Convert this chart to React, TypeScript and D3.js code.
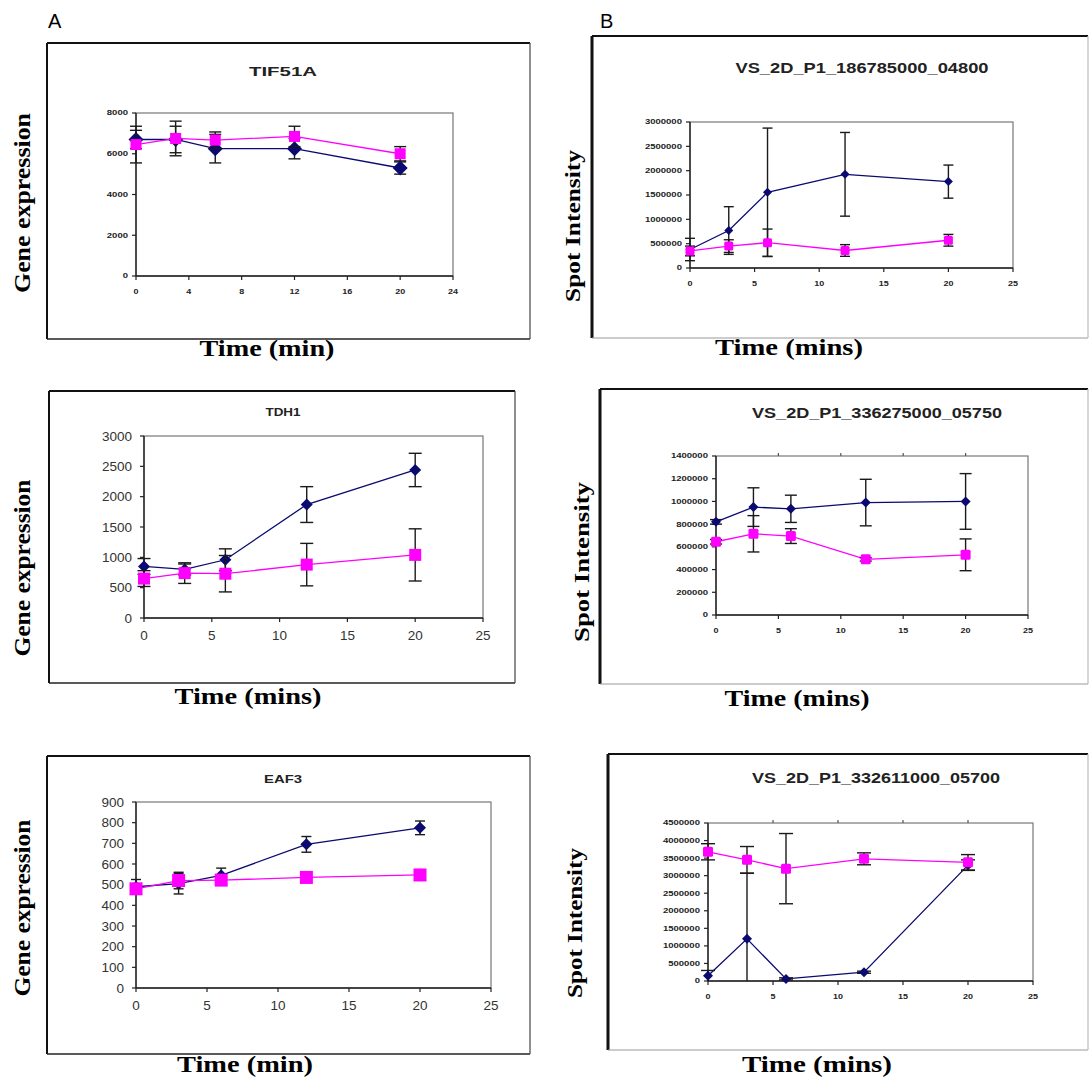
import React from "react";
import * as d3 from "d3";

// ---------- data ----------
const times = [0, 3, 6, 12, 20];

const tif51aBlue = [6700, 6700, 6250, 6250, 5300];
const tif51aBlueErr = [450, 650, 700, 500, 300];
const tif51aPink = [6450, 6750, 6670, 6850, 6000];
const tif51aPinkErr = [900, 850, 400, 500, 350];

const tdh1Blue = [850, 800, 960, 1870, 2440];
const tdh1BlueErr = [130, 90, 180, 295, 275];
const tdh1Pink = [650, 740, 730, 880, 1040];
const tdh1PinkErr = [130, 170, 300, 350, 430];

const eaf3Blue = [490, 505, 545, 695, 775];
const eaf3BlueErr = [35, 50, 35, 38, 33];
const eaf3Pink = [480, 520, 522, 535, 547];
const eaf3PinkErr = [15, 40, 15, 10, 10];

const spot04800Blue = [380000, 770000, 1555000, 1925000, 1775000];
const spot04800BlueErr = [230000, 490000, 1320000, 860000, 340000];
const spot04800Pink = [350000, 450000, 520000, 360000, 570000];
const spot04800PinkErr = [100000, 130000, 280000, 120000, 120000];

const spot05750Blue = [820000, 950000, 935000, 990000, 1000000];
const spot05750BlueErr = [20000, 170000, 120000, 205000, 245000];
const spot05750Pink = [645000, 715000, 695000, 490000, 530000];
const spot05750PinkErr = [20000, 160000, 65000, 15000, 140000];

const spot05700Blue = [150000, 1200000, 60000, 250000, 3300000];
const spot05700BlueErr = [150000, 1870000, 30000, 30000, 150000];
const spot05700Pink = [3680000, 3450000, 3200000, 3480000, 3380000];
const spot05700PinkErr = [230000, 380000, 1000000, 170000, 220000];

const titles = [
  "TIF51A",
  "VS_2D_P1_186785000_04800",
  "TDH1",
  "VS_2D_P1_336275000_05750",
  "EAF3",
  "VS_2D_P1_332611000_05700",
];
const yLabels = ["Gene expression", "Spot Intensity"];
const xLabels = ["Time (min)", "Time (mins)"];

// ---------- layout ----------
type Layout = {
  box: [number, number, number, number];
  plot: { l: number; r: number; t: number; b: number };
  xMax: number;
  xStep: number;
  yMax: number;
  yStep: number;
  tiny: boolean;
  title: { x: number; y: number; size: number; len: number };
  ylab: { x: number; y: number; len: number; size: number };
  xlab: { x: number; y: number; len: number };
  diamond: number;
  square: number;
  cap: number;
  topTicks: boolean;
};

const layouts: Layout[] = [
  {
    box: [47, 43, 530, 339],
    plot: { l: 136, r: 453, t: 113, b: 276 },
    xMax: 24, xStep: 4, yMax: 8000, yStep: 2000, tiny: true,
    title: { x: 283, y: 76, size: 13, len: 68 },
    ylab: { x: 30, y: 203, len: 180, size: 24 },
    xlab: { x: 267, y: 356, len: 135 },
    diamond: 7.5, square: 5.5, cap: 6, topTicks: false,
  },
  {
    box: [592, 36, 1088, 338],
    plot: { l: 690, r: 1013, t: 122, b: 268 },
    xMax: 25, xStep: 5, yMax: 3000000, yStep: 500000, tiny: true,
    title: { x: 862, y: 73, size: 14, len: 253 },
    ylab: { x: 580, y: 226, len: 152, size: 22 },
    xlab: { x: 789, y: 355, len: 148 },
    diamond: 4.5, square: 4.5, cap: 5, topTicks: false,
  },
  {
    box: [49, 391, 515, 683],
    plot: { l: 144, r: 483, t: 436, b: 618 },
    xMax: 25, xStep: 5, yMax: 3000, yStep: 500, tiny: false,
    title: { x: 283, y: 416, size: 10, len: 35 },
    ylab: { x: 30, y: 568, len: 177, size: 24 },
    xlab: { x: 248, y: 704, len: 147 },
    diamond: 6, square: 6, cap: 6.5, topTicks: false,
  },
  {
    box: [600, 389, 1088, 684],
    plot: { l: 716, r: 1028, t: 456, b: 615 },
    xMax: 25, xStep: 5, yMax: 1400000, yStep: 200000, tiny: true,
    title: { x: 877, y: 418, size: 14, len: 250 },
    ylab: { x: 589, y: 562, len: 160, size: 22 },
    xlab: { x: 797, y: 706, len: 145 },
    diamond: 5, square: 5, cap: 6, topTicks: true,
  },
  {
    box: [47, 756, 530, 1054],
    plot: { l: 136, r: 491, t: 802, b: 988 },
    xMax: 25, xStep: 5, yMax: 900, yStep: 100, tiny: false,
    title: { x: 283, y: 783, size: 10, len: 38 },
    ylab: { x: 30, y: 908, len: 177, size: 24 },
    xlab: { x: 245, y: 1072, len: 136 },
    diamond: 6, square: 6.5, cap: 5, topTicks: false,
  },
  {
    box: [608, 754, 1088, 1050],
    plot: { l: 708, r: 1033, t: 823, b: 981 },
    xMax: 25, xStep: 5, yMax: 4500000, yStep: 500000, tiny: true,
    title: { x: 876, y: 783, size: 14, len: 248 },
    ylab: { x: 582, y: 923, len: 150, size: 22 },
    xlab: { x: 817, y: 1072, len: 150 },
    diamond: 5, square: 5, cap: 7, topTicks: true,
  },
];

const panelSeries = [
  { blue: tif51aBlue, blueErr: tif51aBlueErr, pink: tif51aPink, pinkErr: tif51aPinkErr },
  { blue: spot04800Blue, blueErr: spot04800BlueErr, pink: spot04800Pink, pinkErr: spot04800PinkErr },
  { blue: tdh1Blue, blueErr: tdh1BlueErr, pink: tdh1Pink, pinkErr: tdh1PinkErr },
  { blue: spot05750Blue, blueErr: spot05750BlueErr, pink: spot05750Pink, pinkErr: spot05750PinkErr },
  { blue: eaf3Blue, blueErr: eaf3BlueErr, pink: eaf3Pink, pinkErr: eaf3PinkErr },
  { blue: spot05700Blue, blueErr: spot05700BlueErr, pink: spot05700Pink, pinkErr: spot05700PinkErr },
];

const BLUE = "#0a0a70";
const PINK = "#ff00ff";
const SANS = "'Liberation Sans', Arial, sans-serif";
const SERIF = "'Liberation Serif', 'Times New Roman', serif";

function Panel({ idx }: { idx: number }) {
  const L = layouts[idx];
  const S = panelSeries[idx];
  const x = d3.scaleLinear().domain([0, L.xMax]).range([L.plot.l, L.plot.r]);
  const y = d3.scaleLinear().domain([0, L.yMax]).range([L.plot.b, L.plot.t]);
  const xTicks = d3.range(0, L.xMax + 1e-9, L.xStep);
  const yTicks = d3.range(0, L.yMax + 1e-9, L.yStep);
  const line = d3
    .line<number>()
    .x((_, i) => x(times[i]))
    .y((d) => y(d));
  const fmt = d3.format("d");
  const [bx0, by0, bx1, by1] = L.box;
  const isLeft = idx % 2 === 0;
  const yLab = yLabels[isLeft ? 0 : 1];
  const xLab = idx === 0 || idx === 4 ? xLabels[0] : xLabels[1];

  const errBars = (vals: number[], errs: number[]) =>
    vals.map((v, i) => {
      const cx = x(times[i]);
      const hi = y(Math.min(L.yMax, v + errs[i]));
      const lo = y(Math.max(0, v - errs[i]));
      return (
        <g key={i} stroke="#1a1a1a" strokeWidth={1.4}>
          <line x1={cx} x2={cx} y1={hi} y2={lo} />
          <line x1={cx - L.cap} x2={cx + L.cap} y1={hi} y2={hi} />
          {v - errs[i] > 0 && <line x1={cx - L.cap} x2={cx + L.cap} y1={lo} y2={lo} />}
        </g>
      );
    });

  const diamonds = S.blue.map((v, i) => {
    const cx = x(times[i]);
    const cy = y(v);
    const r = L.diamond;
    return (
      <path
        key={i}
        d={`M${cx},${cy - r}L${cx + r},${cy}L${cx},${cy + r}L${cx - r},${cy}Z`}
        fill={BLUE}
      />
    );
  });
  const squares = S.pink.map((v, i) => (
    <rect
      key={i}
      x={x(times[i]) - L.square}
      y={y(v) - L.square}
      width={L.square * 2}
      height={L.square * 2}
      fill={PINK}
      rx={L.tiny && !isLeft ? 1.5 : 0}
    />
  ));

  const tickFont = L.tiny ? 7 : 13.5;
  const tickColor = L.tiny ? "#222" : "#333";

  return (
    <g>
      {/* outer frame */}
      <rect x={bx0} y={by0} width={bx1 - bx0} height={by1 - by0} fill="#fff" stroke="none" />
      <line x1={bx0} x2={bx1} y1={by0} y2={by0} stroke="#111" strokeWidth={2} />
      <line x1={bx0} x2={bx0} y1={by0} y2={by1} stroke="#111" strokeWidth={isLeft ? 2 : 3} />
      <line x1={bx0} x2={bx1} y1={by1} y2={by1} stroke={isLeft ? "#222" : "#999"} strokeWidth={isLeft ? 1.5 : 1} />
      <line x1={bx1} x2={bx1} y1={by0} y2={by1} stroke={isLeft ? "#444" : "#bbb"} strokeWidth={1.2} />

      {/* title */}
      <text
        x={L.title.x}
        y={L.title.y}
        textAnchor="middle"
        fontFamily={SANS}
        fontWeight="bold"
        fontSize={L.title.size}
        fill="#222"
        textLength={L.title.len}
        lengthAdjust="spacingAndGlyphs"
      >
        {titles[idx]}
      </text>

      {/* plot area */}
      <rect
        x={L.plot.l}
        y={L.plot.t}
        width={L.plot.r - L.plot.l}
        height={L.plot.b - L.plot.t}
        fill="#fff"
        stroke="#777"
        strokeWidth={1.2}
      />
      <line x1={L.plot.l} x2={L.plot.l} y1={L.plot.t} y2={L.plot.b} stroke="#222" strokeWidth={1.4} />
      <line x1={L.plot.l} x2={L.plot.r} y1={L.plot.b} y2={L.plot.b} stroke="#222" strokeWidth={1.4} />

      {/* y ticks */}
      {yTicks.map((t) => (
        <g key={"y" + t}>
          <line x1={L.plot.l - 4} x2={L.plot.l} y1={y(t)} y2={y(t)} stroke="#222" strokeWidth={1.2} />
          <text
            x={L.plot.l - (L.tiny ? 8 : 12)}
            y={y(t)}
            dy="0.35em"
            textAnchor="end"
            fontFamily={SANS}
            fontWeight={L.tiny ? "bold" : "normal"}
            fontSize={tickFont}
            fill={tickColor}
            {...(L.tiny ? { textLength: fmt(t).length * 5.3, lengthAdjust: "spacingAndGlyphs" } : {})}
          >
            {fmt(t)}
          </text>
        </g>
      ))}
      {/* x ticks */}
      {xTicks.map((t) => (
        <g key={"x" + t}>
          <line x1={x(t)} x2={x(t)} y1={L.plot.b} y2={L.plot.b + 4} stroke="#222" strokeWidth={1.2} />
          {L.topTicks && t > 0 && t < L.xMax && (
            <line x1={x(t)} x2={x(t)} y1={L.plot.t - 3} y2={L.plot.t} stroke="#555" strokeWidth={1.2} />
          )}
          <text
            x={x(t)}
            y={L.plot.b + (L.tiny ? 18 : 22)}
            textAnchor="middle"
            fontFamily={SANS}
            fontWeight={L.tiny ? "bold" : "normal"}
            fontSize={tickFont}
            fill={tickColor}
            {...(L.tiny ? { textLength: fmt(t).length * 5, lengthAdjust: "spacingAndGlyphs" } : {})}
          >
            {fmt(t)}
          </text>
        </g>
      ))}

      {/* blue series */}
      <path d={line(S.blue) || ""} fill="none" stroke={BLUE} strokeWidth={1.3} />
      {errBars(S.blue, S.blueErr)}
      {diamonds}
      {/* pink series */}
      <path d={line(S.pink) || ""} fill="none" stroke={PINK} strokeWidth={1.3} />
      {errBars(S.pink, S.pinkErr)}
      {squares}

      {/* axis labels */}
      <text
        transform={`translate(${L.ylab.x},${L.ylab.y}) rotate(-90)`}
        textAnchor="middle"
        fontFamily={SERIF}
        fontWeight="bold"
        fontSize={L.ylab.size}
        fill="#000"
        textLength={L.ylab.len}
        lengthAdjust="spacingAndGlyphs"
      >
        {yLab}
      </text>
      <text
        x={L.xlab.x}
        y={L.xlab.y}
        textAnchor="middle"
        fontFamily={SERIF}
        fontWeight="bold"
        fontSize={24}
        fill="#000"
        textLength={L.xlab.len}
        lengthAdjust="spacingAndGlyphs"
      >
        {xLab}
      </text>
    </g>
  );
}

export default function App() {
  return (
    <svg
      width={1089}
      height={1085}
      style={{ position: "absolute", left: 0, top: 0, display: "block", background: "#fff" }}
    >
      <rect x={0} y={0} width={1089} height={1085} fill="#fff" />
      <text x={48} y={28} fontFamily={SANS} fontSize={20} fill="#000">A</text>
      <text x={600} y={28} fontFamily={SANS} fontSize={20} fill="#000">B</text>
      {layouts.map((_, i) => (
        <Panel key={i} idx={i} />
      ))}
    </svg>
  );
}
